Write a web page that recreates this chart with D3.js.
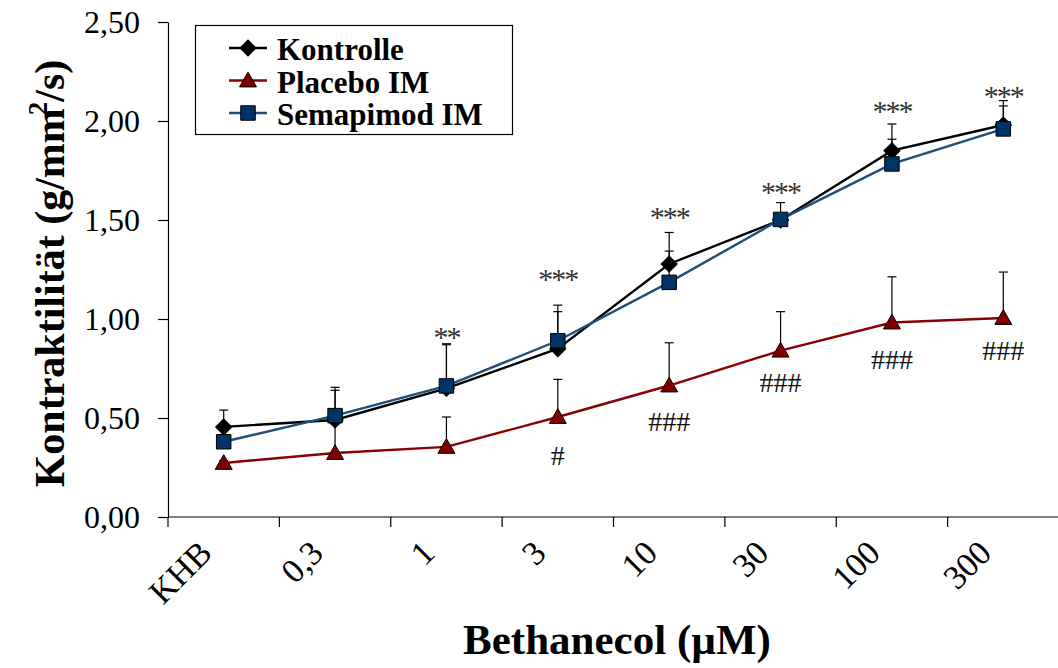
<!DOCTYPE html>
<html>
<head>
<meta charset="utf-8">
<script src="https://cdn.jsdelivr.net/npm/d3@7"></script>
<style>
  html, body { margin: 0; padding: 0; background: #fff; }
  svg { display: block; }
  text { font-family: "Liberation Serif", "Times New Roman", serif; }
</style>
</head>
<body>
<svg id="chart" width="1058" height="668"></svg>
<script>
// Bethanecol concentrations (µM), KHB = buffer only
const categories = ["KHB", "0,3", "1", "3", "10", "30", "100", "300"];

// Mean contractility (g/mm²/s) per group
const kontrolle = [0.455, 0.49, 0.65, 0.85, 1.278, 1.50, 1.85, 1.98];
const placebo   = [0.273, 0.323, 0.354, 0.505, 0.664, 0.84, 0.982, 1.005];
const semapimod = [0.38, 0.512, 0.662, 0.89, 1.185, 1.503, 1.783, 1.96];

// Standard error (upward bars only)
const kontrolleErr = [0.085, 0.165, 0.22, 0.187, 0.159, 0.088, 0.135, 0.123];
const placeboErr   = [0.012, 0.147, 0.151, 0.19, 0.216, 0.197, 0.231, 0.232];
const semapimodErr = [0.06, 0.128, 0.213, 0.18, 0.158, 0.03, 0.125, 0.116];

// Significance marks: Kontrolle vs. KHB (*) and Placebo vs. Kontrolle (#)
const starLabels = ["", "", "**", "***", "***", "***", "***", "***"];
const starLevels = [null, null, 0.874, 1.167, 1.48, 1.606, 2.015, 2.091];
const hashLabels = ["", "", "", "#", "###", "###", "###", "###"];
const hashLevels = [null, null, null, 0.265, 0.432, 0.629, 0.75, 0.795];

const yTicks = [0, 0.5, 1.0, 1.5, 2.0, 2.5];

const series = [
  { name: "Kontrolle",    values: kontrolle, err: kontrolleErr, line: "#000000", fill: "#000000", shape: "diamond" },
  { name: "Placebo IM",   values: placebo,   err: placeboErr,   line: "#8B0000", fill: "#800000", shape: "triangle" },
  { name: "Semapimod IM", values: semapimod, err: semapimodErr, line: "#1F4E79", fill: "#003366", shape: "square" }
];

const svg = d3.select("#chart");
const plotL = 168, plotR = 1059, plotT = 22, plotB = 517;

const x = d3.scaleBand().domain(categories).range([plotL, plotR]).paddingInner(0).paddingOuter(0);
const y = d3.scaleLinear().domain([0, 2.5]).range([plotB, plotT]);
const cx = c => x(c) + x.bandwidth() / 2;

const fmt = v => d3.format(".2f")(v).replace(".", ",");

// Y axis
const yAxis = svg.append("g")
  .attr("transform", `translate(${plotL},0)`)
  .call(d3.axisLeft(y).tickValues(yTicks).tickFormat(fmt).tickSize(10).tickSizeOuter(0).tickPadding(18));
yAxis.select(".domain").attr("stroke", "#000").attr("stroke-width", 1.2);
yAxis.selectAll(".tick line").attr("stroke", "#000").attr("stroke-width", 1.2);
yAxis.selectAll(".tick text")
  .attr("font-family", "Liberation Serif, serif")
  .attr("font-size", 32)
  .attr("fill", "#000");

// X axis: baseline plus tick marks between categories
const xAxis = svg.append("g").attr("transform", `translate(0,${plotB})`);
xAxis.append("line").attr("x1", plotL).attr("x2", plotR).attr("stroke", "#000").attr("stroke-width", 1.2);
xAxis.selectAll("line.tk")
  .data(categories)
  .join("line")
  .attr("class", "tk")
  .attr("x1", d => x(d)).attr("x2", d => x(d))
  .attr("y1", 0).attr("y2", 10)
  .attr("stroke", "#000").attr("stroke-width", 1.2);
xAxis.selectAll("text.cat")
  .data(categories)
  .join("text")
  .attr("class", "cat")
  .attr("text-anchor", "end")
  .attr("font-size", 34)
  .attr("transform", d => `translate(${cx(d) - 10},${38}) rotate(-45)`)
  .text(d => d);

// Axis titles
svg.append("text")
  .attr("transform", `translate(64,${(plotT + plotB) / 2 + 4}) rotate(-90)`)
  .attr("text-anchor", "middle")
  .attr("font-size", 42)
  .attr("font-weight", "bold")
  .call(t => {
    t.append("tspan").text("Kontraktilität (g/mm");
    t.append("tspan").attr("font-size", 27).attr("dy", -17).attr("dx", -7).text("2");
    t.append("tspan").attr("dy", 17).text("/s)");
  });

svg.append("text")
  .attr("x", 617).attr("y", 654)
  .attr("text-anchor", "middle")
  .attr("font-size", 43)
  .attr("font-weight", "bold")
  .text("Bethanecol (µM)");

// Marker shapes (diamond = square turned 45°)
const shapeSym = { diamond: d3.symbolSquare, triangle: d3.symbolTriangle, square: d3.symbolSquare };
const shapeSize = { diamond: 130, triangle: 125, square: 210 };
function marker(sel, s) {
  sel.append("path")
    .attr("d", d3.symbol().type(shapeSym[s.shape]).size(shapeSize[s.shape])())
    .attr("transform", s.shape === "diamond" ? "rotate(45)" : null)
    .attr("fill", s.fill)
    .attr("stroke", "#000")
    .attr("stroke-width", 1);
}

const lineGen = d3.line().x((d, i) => cx(categories[i])).y(d => y(d));

series.forEach(s => {
  const g = svg.append("g");
  // connecting line
  g.append("path")
    .attr("d", lineGen(s.values))
    .attr("fill", "none")
    .attr("stroke", s.line)
    .attr("stroke-width", 2.4);
  // error bars (upper)
  const eb = g.selectAll("g.err")
    .data(s.values.map((v, i) => ({ v, e: s.err[i], c: categories[i] })))
    .join("g").attr("class", "err");
  eb.append("line")
    .attr("x1", d => cx(d.c)).attr("x2", d => cx(d.c))
    .attr("y1", d => y(d.v)).attr("y2", d => y(d.v + d.e))
    .attr("stroke", "#000").attr("stroke-width", 1.2);
  eb.append("line")
    .attr("x1", d => cx(d.c) - 4.5).attr("x2", d => cx(d.c) + 4.5)
    .attr("y1", d => y(d.v + d.e)).attr("y2", d => y(d.v + d.e))
    .attr("stroke", "#000").attr("stroke-width", 1.2);
  // markers
  g.selectAll("g.pt")
    .data(s.values.map((v, i) => ({ v, c: categories[i] })))
    .join("g").attr("class", "pt")
    .attr("transform", d => `translate(${cx(d.c)},${y(d.v) + (s.shape === "triangle" ? 1.5 : 0)})`)
    .each(function () { marker(d3.select(this), s); });
});

// Significance annotations
svg.selectAll("text.star")
  .data(categories.map((c, i) => ({ c, t: starLabels[i], v: starLevels[i] })).filter(d => d.t))
  .join("text")
  .attr("class", "star")
  .attr("x", d => cx(d.c)).attr("y", d => y(d.v) + 3)
  .attr("text-anchor", "middle")
  .attr("font-size", 30)
  .attr("letter-spacing", -2)
  .attr("fill", "#333")
  .text(d => d.t);

svg.selectAll("text.hash")
  .data(categories.map((c, i) => ({ c, t: hashLabels[i], v: hashLevels[i] })).filter(d => d.t))
  .join("text")
  .attr("class", "hash")
  .attr("x", d => cx(d.c)).attr("y", d => y(d.v))
  .attr("text-anchor", "middle")
  .attr("font-size", 28)
  .attr("fill", "#111")
  .text(d => d.t);

// Legend
const lg = svg.append("g");
lg.append("rect")
  .attr("x", 195.5).attr("y", 25.5).attr("width", 317).attr("height", 109)
  .attr("fill", "#fff").attr("stroke", "#000").attr("stroke-width", 1.2);
series.forEach((s, i) => {
  const yy = 48 + i * 32.5;
  lg.append("line")
    .attr("x1", 229).attr("x2", 267).attr("y1", yy).attr("y2", yy)
    .attr("stroke", s.line).attr("stroke-width", 2.4);
  const m = lg.append("g").attr("transform", `translate(248,${yy + (s.shape === "triangle" ? 1.5 : 0)})`);
  marker(m, s);
  lg.append("text")
    .attr("x", 277).attr("y", yy + 12)
    .attr("font-size", 31)
    .attr("font-weight", "bold")
    .text(s.name);
});
</script>
</body>
</html>
